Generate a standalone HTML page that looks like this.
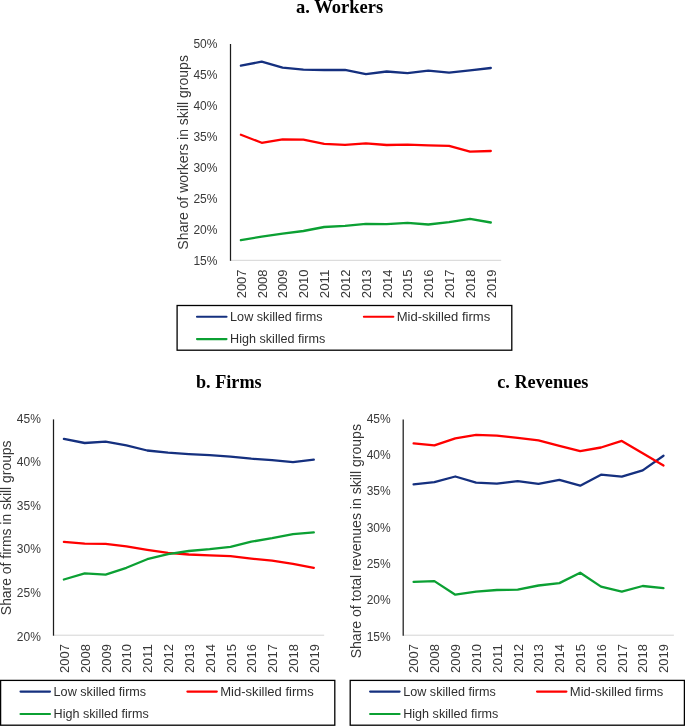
<!DOCTYPE html>
<html><head><meta charset="utf-8"><title>Figure</title>
<style>
html,body{margin:0;padding:0;background:#fff;}
body{width:685px;height:726px;overflow:hidden;}
svg{display:block;will-change:transform;}
text{font-family:"Liberation Sans",sans-serif;}
.t{font-family:"Liberation Serif",serif;font-weight:bold;font-size:18.3px;fill:#000;}
.k{font-size:12px;fill:#383838;}
.y{font-size:12px;fill:#383838;}
.l{font-size:12px;fill:#2e2e2e;}
.a{font-size:14px;fill:#383838;}
.s{fill:none;stroke-width:2.3;stroke-linecap:round;stroke-linejoin:round;}
</style></head><body>
<svg width="685" height="726" viewBox="0 0 685 726">

<g>
<text class="t" x="339.7" y="12.6" text-anchor="middle" textLength="87.2" lengthAdjust="spacingAndGlyphs">a. Workers</text>
<line x1="230.5" y1="260.3" x2="501.2" y2="260.3" stroke="#d4d4d4" stroke-width="1"/>
<line x1="230.5" y1="44.0" x2="230.5" y2="260.8" stroke="#1c1c1c" stroke-width="1.25"/>
<text class="k" x="217.4" y="48.2" text-anchor="end" textLength="24" lengthAdjust="spacingAndGlyphs">50%</text>
<text class="k" x="217.4" y="79.1" text-anchor="end" textLength="24" lengthAdjust="spacingAndGlyphs">45%</text>
<text class="k" x="217.4" y="110.0" text-anchor="end" textLength="24" lengthAdjust="spacingAndGlyphs">40%</text>
<text class="k" x="217.4" y="140.9" text-anchor="end" textLength="24" lengthAdjust="spacingAndGlyphs">35%</text>
<text class="k" x="217.4" y="171.8" text-anchor="end" textLength="24" lengthAdjust="spacingAndGlyphs">30%</text>
<text class="k" x="217.4" y="202.7" text-anchor="end" textLength="24" lengthAdjust="spacingAndGlyphs">25%</text>
<text class="k" x="217.4" y="233.6" text-anchor="end" textLength="24" lengthAdjust="spacingAndGlyphs">20%</text>
<text class="k" x="217.4" y="264.5" text-anchor="end" textLength="24" lengthAdjust="spacingAndGlyphs">15%</text>
<text class="y" transform="translate(245.8,269.6) rotate(-90)" text-anchor="end" textLength="28.7" lengthAdjust="spacingAndGlyphs">2007</text>
<text class="y" transform="translate(266.6,269.6) rotate(-90)" text-anchor="end" textLength="28.7" lengthAdjust="spacingAndGlyphs">2008</text>
<text class="y" transform="translate(287.4,269.6) rotate(-90)" text-anchor="end" textLength="28.7" lengthAdjust="spacingAndGlyphs">2009</text>
<text class="y" transform="translate(308.2,269.6) rotate(-90)" text-anchor="end" textLength="28.7" lengthAdjust="spacingAndGlyphs">2010</text>
<text class="y" transform="translate(329.1,269.6) rotate(-90)" text-anchor="end" textLength="28.7" lengthAdjust="spacingAndGlyphs">2011</text>
<text class="y" transform="translate(349.9,269.6) rotate(-90)" text-anchor="end" textLength="28.7" lengthAdjust="spacingAndGlyphs">2012</text>
<text class="y" transform="translate(370.7,269.6) rotate(-90)" text-anchor="end" textLength="28.7" lengthAdjust="spacingAndGlyphs">2013</text>
<text class="y" transform="translate(391.5,269.6) rotate(-90)" text-anchor="end" textLength="28.7" lengthAdjust="spacingAndGlyphs">2014</text>
<text class="y" transform="translate(412.3,269.6) rotate(-90)" text-anchor="end" textLength="28.7" lengthAdjust="spacingAndGlyphs">2015</text>
<text class="y" transform="translate(433.2,269.6) rotate(-90)" text-anchor="end" textLength="28.7" lengthAdjust="spacingAndGlyphs">2016</text>
<text class="y" transform="translate(454.0,269.6) rotate(-90)" text-anchor="end" textLength="28.7" lengthAdjust="spacingAndGlyphs">2017</text>
<text class="y" transform="translate(474.8,269.6) rotate(-90)" text-anchor="end" textLength="28.7" lengthAdjust="spacingAndGlyphs">2018</text>
<text class="y" transform="translate(495.6,269.6) rotate(-90)" text-anchor="end" textLength="28.7" lengthAdjust="spacingAndGlyphs">2019</text>
<text class="a" transform="translate(187.7,152.4) rotate(-90)" text-anchor="middle" textLength="194.6" lengthAdjust="spacingAndGlyphs">Share of workers in skill groups</text>
<polyline class="s" stroke="#15307f" points="240.9,65.7 261.7,61.6 282.6,67.6 303.4,69.6 324.2,70.0 345.0,69.8 365.9,74.1 386.7,71.5 407.5,73.1 428.3,70.6 449.1,72.7 470.0,70.4 490.8,68.0"/>
<polyline class="s" stroke="#ff0000" points="240.9,134.8 261.7,142.8 282.6,139.3 303.4,139.7 324.2,143.8 345.0,144.8 365.9,143.3 386.7,145.0 407.5,144.6 428.3,145.4 449.1,145.8 470.0,151.6 490.8,151.0"/>
<polyline class="s" stroke="#0ba033" points="240.9,240.2 261.7,236.6 282.6,233.7 303.4,231.0 324.2,227.0 345.0,225.9 365.9,223.9 386.7,224.1 407.5,222.9 428.3,224.5 449.1,222.1 470.0,218.8 490.8,222.5"/>
<rect x="177.1" y="305.5" width="334.7" height="44.7" fill="#fff" stroke="#000" stroke-width="1.3"/>
<line x1="197.0" y1="316.7" x2="226.5" y2="316.7" stroke="#15307f" stroke-width="2.15" stroke-linecap="round"/>
<text class="l" x="230.1" y="320.7" textLength="92.6" lengthAdjust="spacingAndGlyphs">Low skilled firms</text>
<line x1="363.9" y1="316.7" x2="393.3" y2="316.7" stroke="#ff0000" stroke-width="2.15" stroke-linecap="round"/>
<text class="l" x="396.7" y="320.7" textLength="93.6" lengthAdjust="spacingAndGlyphs">Mid-skilled firms</text>
<line x1="197.0" y1="339.1" x2="226.5" y2="339.1" stroke="#0ba033" stroke-width="2.15" stroke-linecap="round"/>
<text class="l" x="230.1" y="343.1" textLength="95.2" lengthAdjust="spacingAndGlyphs">High skilled firms</text>
</g>
<g>
<text class="t" x="228.8" y="387.6" text-anchor="middle" textLength="65.7" lengthAdjust="spacingAndGlyphs">b. Firms</text>
<line x1="53.5" y1="635.2" x2="324.2" y2="635.2" stroke="#d4d4d4" stroke-width="1"/>
<line x1="53.5" y1="419.4" x2="53.5" y2="635.7" stroke="#1c1c1c" stroke-width="1.25"/>
<text class="k" x="40.8" y="422.8" text-anchor="end" textLength="24" lengthAdjust="spacingAndGlyphs">45%</text>
<text class="k" x="40.8" y="466.3" text-anchor="end" textLength="24" lengthAdjust="spacingAndGlyphs">40%</text>
<text class="k" x="40.8" y="509.9" text-anchor="end" textLength="24" lengthAdjust="spacingAndGlyphs">35%</text>
<text class="k" x="40.8" y="553.4" text-anchor="end" textLength="24" lengthAdjust="spacingAndGlyphs">30%</text>
<text class="k" x="40.8" y="597.0" text-anchor="end" textLength="24" lengthAdjust="spacingAndGlyphs">25%</text>
<text class="k" x="40.8" y="640.5" text-anchor="end" textLength="24" lengthAdjust="spacingAndGlyphs">20%</text>
<text class="y" transform="translate(68.9,644.2) rotate(-90)" text-anchor="end" textLength="28.7" lengthAdjust="spacingAndGlyphs">2007</text>
<text class="y" transform="translate(89.7,644.2) rotate(-90)" text-anchor="end" textLength="28.7" lengthAdjust="spacingAndGlyphs">2008</text>
<text class="y" transform="translate(110.6,644.2) rotate(-90)" text-anchor="end" textLength="28.7" lengthAdjust="spacingAndGlyphs">2009</text>
<text class="y" transform="translate(131.4,644.2) rotate(-90)" text-anchor="end" textLength="28.7" lengthAdjust="spacingAndGlyphs">2010</text>
<text class="y" transform="translate(152.2,644.2) rotate(-90)" text-anchor="end" textLength="28.7" lengthAdjust="spacingAndGlyphs">2011</text>
<text class="y" transform="translate(173.0,644.2) rotate(-90)" text-anchor="end" textLength="28.7" lengthAdjust="spacingAndGlyphs">2012</text>
<text class="y" transform="translate(193.8,644.2) rotate(-90)" text-anchor="end" textLength="28.7" lengthAdjust="spacingAndGlyphs">2013</text>
<text class="y" transform="translate(214.7,644.2) rotate(-90)" text-anchor="end" textLength="28.7" lengthAdjust="spacingAndGlyphs">2014</text>
<text class="y" transform="translate(235.5,644.2) rotate(-90)" text-anchor="end" textLength="28.7" lengthAdjust="spacingAndGlyphs">2015</text>
<text class="y" transform="translate(256.3,644.2) rotate(-90)" text-anchor="end" textLength="28.7" lengthAdjust="spacingAndGlyphs">2016</text>
<text class="y" transform="translate(277.1,644.2) rotate(-90)" text-anchor="end" textLength="28.7" lengthAdjust="spacingAndGlyphs">2017</text>
<text class="y" transform="translate(298.0,644.2) rotate(-90)" text-anchor="end" textLength="28.7" lengthAdjust="spacingAndGlyphs">2018</text>
<text class="y" transform="translate(318.8,644.2) rotate(-90)" text-anchor="end" textLength="28.7" lengthAdjust="spacingAndGlyphs">2019</text>
<text class="a" transform="translate(11.3,527.8) rotate(-90)" text-anchor="middle" textLength="174.7" lengthAdjust="spacingAndGlyphs">Share of firms in skill groups</text>
<polyline class="s" stroke="#15307f" points="63.9,438.9 84.7,443.0 105.6,441.6 126.4,445.4 147.2,450.5 168.0,452.6 188.8,454.1 209.7,455.2 230.5,456.7 251.3,458.7 272.1,460.2 293.0,462.2 313.8,459.7"/>
<polyline class="s" stroke="#ff0000" points="63.9,541.9 84.7,543.7 105.6,543.9 126.4,546.3 147.2,549.8 168.0,552.9 188.8,554.5 209.7,555.4 230.5,556.2 251.3,558.6 272.1,560.7 293.0,563.8 313.8,567.8"/>
<polyline class="s" stroke="#0ba033" points="63.9,579.5 84.7,573.3 105.6,574.6 126.4,567.8 147.2,559.2 168.0,554.1 188.8,551.0 209.7,549.2 230.5,546.8 251.3,541.7 272.1,538.2 293.0,534.1 313.8,532.3"/>
<rect x="0.6" y="680.4" width="334.2" height="44.8" fill="#fff" stroke="#000" stroke-width="1.3"/>
<line x1="20.5" y1="691.6" x2="50.0" y2="691.6" stroke="#15307f" stroke-width="2.15" stroke-linecap="round"/>
<text class="l" x="53.6" y="695.6" textLength="92.6" lengthAdjust="spacingAndGlyphs">Low skilled firms</text>
<line x1="187.4" y1="691.6" x2="216.8" y2="691.6" stroke="#ff0000" stroke-width="2.15" stroke-linecap="round"/>
<text class="l" x="220.2" y="695.6" textLength="93.6" lengthAdjust="spacingAndGlyphs">Mid-skilled firms</text>
<line x1="20.5" y1="714.0" x2="50.0" y2="714.0" stroke="#0ba033" stroke-width="2.15" stroke-linecap="round"/>
<text class="l" x="53.6" y="718.0" textLength="95.2" lengthAdjust="spacingAndGlyphs">High skilled firms</text>
</g>
<g>
<text class="t" x="542.8" y="387.6" text-anchor="middle" textLength="91.3" lengthAdjust="spacingAndGlyphs">c. Revenues</text>
<line x1="403.2" y1="635.2" x2="673.9" y2="635.2" stroke="#d4d4d4" stroke-width="1"/>
<line x1="403.2" y1="419.4" x2="403.2" y2="635.7" stroke="#1c1c1c" stroke-width="1.25"/>
<text class="k" x="390.7" y="422.8" text-anchor="end" textLength="24" lengthAdjust="spacingAndGlyphs">45%</text>
<text class="k" x="390.7" y="459.1" text-anchor="end" textLength="24" lengthAdjust="spacingAndGlyphs">40%</text>
<text class="k" x="390.7" y="495.4" text-anchor="end" textLength="24" lengthAdjust="spacingAndGlyphs">35%</text>
<text class="k" x="390.7" y="531.7" text-anchor="end" textLength="24" lengthAdjust="spacingAndGlyphs">30%</text>
<text class="k" x="390.7" y="567.9" text-anchor="end" textLength="24" lengthAdjust="spacingAndGlyphs">25%</text>
<text class="k" x="390.7" y="604.2" text-anchor="end" textLength="24" lengthAdjust="spacingAndGlyphs">20%</text>
<text class="k" x="390.7" y="640.5" text-anchor="end" textLength="24" lengthAdjust="spacingAndGlyphs">15%</text>
<text class="y" transform="translate(418.4,644.2) rotate(-90)" text-anchor="end" textLength="28.7" lengthAdjust="spacingAndGlyphs">2007</text>
<text class="y" transform="translate(439.2,644.2) rotate(-90)" text-anchor="end" textLength="28.7" lengthAdjust="spacingAndGlyphs">2008</text>
<text class="y" transform="translate(460.0,644.2) rotate(-90)" text-anchor="end" textLength="28.7" lengthAdjust="spacingAndGlyphs">2009</text>
<text class="y" transform="translate(480.8,644.2) rotate(-90)" text-anchor="end" textLength="28.7" lengthAdjust="spacingAndGlyphs">2010</text>
<text class="y" transform="translate(501.7,644.2) rotate(-90)" text-anchor="end" textLength="28.7" lengthAdjust="spacingAndGlyphs">2011</text>
<text class="y" transform="translate(522.5,644.2) rotate(-90)" text-anchor="end" textLength="28.7" lengthAdjust="spacingAndGlyphs">2012</text>
<text class="y" transform="translate(543.3,644.2) rotate(-90)" text-anchor="end" textLength="28.7" lengthAdjust="spacingAndGlyphs">2013</text>
<text class="y" transform="translate(564.1,644.2) rotate(-90)" text-anchor="end" textLength="28.7" lengthAdjust="spacingAndGlyphs">2014</text>
<text class="y" transform="translate(584.9,644.2) rotate(-90)" text-anchor="end" textLength="28.7" lengthAdjust="spacingAndGlyphs">2015</text>
<text class="y" transform="translate(605.8,644.2) rotate(-90)" text-anchor="end" textLength="28.7" lengthAdjust="spacingAndGlyphs">2016</text>
<text class="y" transform="translate(626.6,644.2) rotate(-90)" text-anchor="end" textLength="28.7" lengthAdjust="spacingAndGlyphs">2017</text>
<text class="y" transform="translate(647.4,644.2) rotate(-90)" text-anchor="end" textLength="28.7" lengthAdjust="spacingAndGlyphs">2018</text>
<text class="y" transform="translate(668.2,644.2) rotate(-90)" text-anchor="end" textLength="28.7" lengthAdjust="spacingAndGlyphs">2019</text>
<text class="a" transform="translate(360.7,541.2) rotate(-90)" text-anchor="middle" textLength="234.3" lengthAdjust="spacingAndGlyphs">Share of total revenues in skill groups</text>
<polyline class="s" stroke="#15307f" points="413.6,484.3 434.4,482.2 455.3,476.5 476.1,482.6 496.9,483.7 517.7,481.2 538.5,483.9 559.4,479.8 580.2,485.7 601.0,474.7 621.8,476.7 642.7,470.4 663.5,455.7"/>
<polyline class="s" stroke="#ff0000" points="413.6,443.4 434.4,445.4 455.3,438.3 476.1,434.8 496.9,435.6 517.7,437.9 538.5,440.4 559.4,445.8 580.2,451.2 601.0,447.5 621.8,440.9 642.7,453.2 663.5,465.5"/>
<polyline class="s" stroke="#0ba033" points="413.6,581.9 434.4,581.1 455.3,594.7 476.1,591.7 496.9,590.0 517.7,589.6 538.5,585.5 559.4,583.1 580.2,572.7 601.0,586.6 621.8,591.7 642.7,586.0 663.5,588.2"/>
<rect x="350.2" y="680.4" width="334.2" height="44.8" fill="#fff" stroke="#000" stroke-width="1.3"/>
<line x1="370.1" y1="691.6" x2="399.6" y2="691.6" stroke="#15307f" stroke-width="2.15" stroke-linecap="round"/>
<text class="l" x="403.2" y="695.6" textLength="92.6" lengthAdjust="spacingAndGlyphs">Low skilled firms</text>
<line x1="537.0" y1="691.6" x2="566.4" y2="691.6" stroke="#ff0000" stroke-width="2.15" stroke-linecap="round"/>
<text class="l" x="569.8" y="695.6" textLength="93.6" lengthAdjust="spacingAndGlyphs">Mid-skilled firms</text>
<line x1="370.1" y1="714.0" x2="399.6" y2="714.0" stroke="#0ba033" stroke-width="2.15" stroke-linecap="round"/>
<text class="l" x="403.2" y="718.0" textLength="95.2" lengthAdjust="spacingAndGlyphs">High skilled firms</text>
</g>
</svg></body></html>
